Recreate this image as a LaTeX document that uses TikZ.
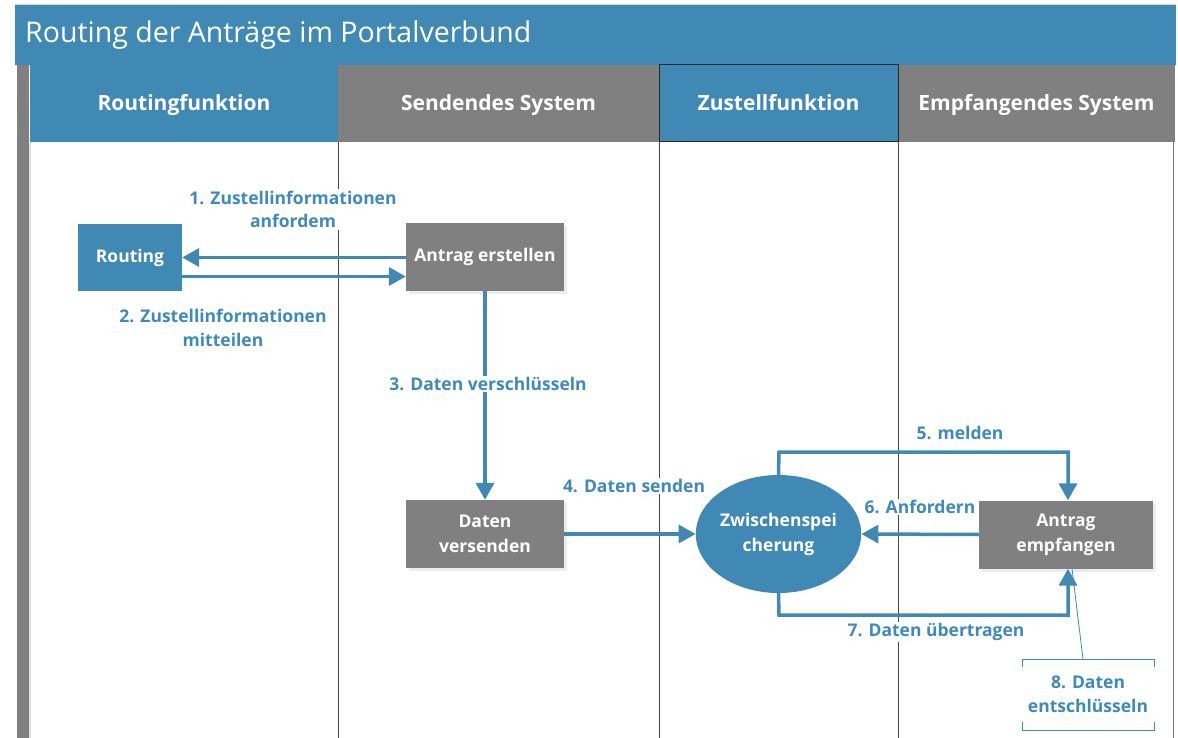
\documentclass[tikz,border=0pt]{standalone}
\usepackage{fontspec}
\setmainfont{Open Sans}
\usetikzlibrary{arrows.meta,shadows,shapes.geometric}
\definecolor{pblue}{RGB}{64,137,180}
\definecolor{lblue}{RGB}{62,138,188}
\definecolor{pgray}{RGB}{128,128,128}
\definecolor{lanec}{RGB}{70,70,70}
\tikzset{
  boxstyle/.style={draw=none, minimum width=#1, inner sep=0pt, align=center, text=white,
    font=\fontsize{17.5}{25}\selectfont\bfseries},
  graybox/.style={boxstyle=158pt, fill=pgray, minimum height=68pt,
    drop shadow={opacity=0.15, shadow xshift=3pt, shadow yshift=-3pt}},
  hdr/.style={draw=none, inner sep=0pt, text=white, text height=19pt, text depth=4.5pt,
    font=\fontsize{21}{24}\selectfont\bfseries},
  arr/.style={draw=pblue, line width=3.5pt, -{Triangle[length=17pt,width=18pt]}},
  lbl/.style={fill=white, inner sep=1.5pt, align=center, text=lblue,
    font=\fontsize{17.5}{23.5}\selectfont\bfseries},
  laneline/.style={draw=lanec, line width=1pt},
}
\begin{document}
\begin{tikzpicture}[x=1pt,y=-1pt]
\useasboundingbox (0,0) rectangle (1178,738);
\fill[white] (0,0) rectangle (1178,738);
% title bar
\fill[pblue] (15,5) rectangle (1176,65);
\draw[black!15, line width=1pt] (15,4.5) -- (1176,4.5);
\node[anchor=west, text=white, inner sep=0pt, font=\fontsize{28.5}{32}\selectfont] (title) at (25,35) {Routing der Anträge im Portalverbund};
% left strip
\fill[pgray] (17,65) rectangle (29,738);
\draw[black!12, line width=2pt] (30,142) -- (30,738);
% headers
\node[hdr, fill=pblue, minimum width=308pt, minimum height=77pt] (h1) at (184,103.5) {Routingfunktion};
\node[hdr, fill=pgray, minimum width=321pt, minimum height=77pt] (h2) at (498.5,103.5) {Sendendes System};
\node[hdr, fill=pgray, minimum width=277pt, minimum height=77pt] (h4) at (1036.5,103.5) {Empfangendes System};
\node[hdr, fill=pblue, draw=black!85, line width=1pt, minimum width=239pt, minimum height=77pt] (h3) at (778.5,103.5) {Zustellfunktion};
% lane lines
\draw[laneline] (338,142) -- (338,738);
\draw[laneline] (659,142) -- (659,738);
\draw[laneline] (898,142) -- (898,738);
\draw[draw=black!55, line width=1pt] (1173,142) -- (1173,738);
% nodes
\node[boxstyle=104pt, fill=pblue, minimum height=67pt] (routing) at (130,257.5) {Routing};
\node[graybox] (ae) at (485,257) {Antrag erstellen};
\node[graybox] (dv) at (485,534) {Daten\\versenden};
\node[ellipse, fill=pblue, minimum width=158pt, minimum height=118pt, inner sep=0pt, align=center, text=white,
  font=\fontsize{17.5}{25}\selectfont\bfseries] (zs) at (778.5,534) {Zwischenspei\\cherung};
\node[graybox, minimum width=174pt] (emp) at (1066,534.5) {Antrag\\empfangen};
% connectors
\draw[arr] (ae.west |- routing.east) -- (routing.east);
\draw[arr] ([yshift=-19pt]routing.east) -- ([yshift=-19pt]routing.east -| ae.west);
\draw[arr] (ae.south) -- (dv.north);
\draw[arr] (dv.east) -- (zs.west);
\coordinate (c5) at (779,452);
\coordinate (c7) at (779,615);
\draw[arr] (zs.north) -- (c5) -| ([xshift=2pt]emp.north);
\draw[arr] (emp.west) -- (zs.east);
\draw[arr] (zs.south) -- (c7) -| ([xshift=2pt]emp.south);
% labels
\node[lbl] (l1) at (293,209.5) {1. Zustellinformationen\\anfordem};
\node[lbl] (l2) at (223,328) {2. Zustellinformationen\\mitteilen};
\node[lbl] (l3) at (488,384) {3. Daten verschlüsseln};
\node[lbl] (l4) at (634,486) {4. Daten senden};
\node[lbl] (l5) at (960,433) {5. melden};
\node[lbl] (l6) at (920,507) {6. Anfordern};
\node[lbl] (l7) at (936,632) {7. Daten übertragen};
% annotation 8
\node[lbl, fill=none] (l8) at (1088,694.5) {8. Daten\\entschlüsseln};
\coordinate (a8) at (1083,659);
\draw[draw=pblue, line width=0.8pt] ([xshift=6pt]emp.south) -- (a8);
\draw[draw=pblue, line width=1pt] (1022,667) -- (1022,659) -- (1154,659) -- (1154,667);
\draw[draw=pblue, line width=1pt] (1022,722) -- (1022,730) -- (1154,730) -- (1154,722);
\end{tikzpicture}
\end{document}
